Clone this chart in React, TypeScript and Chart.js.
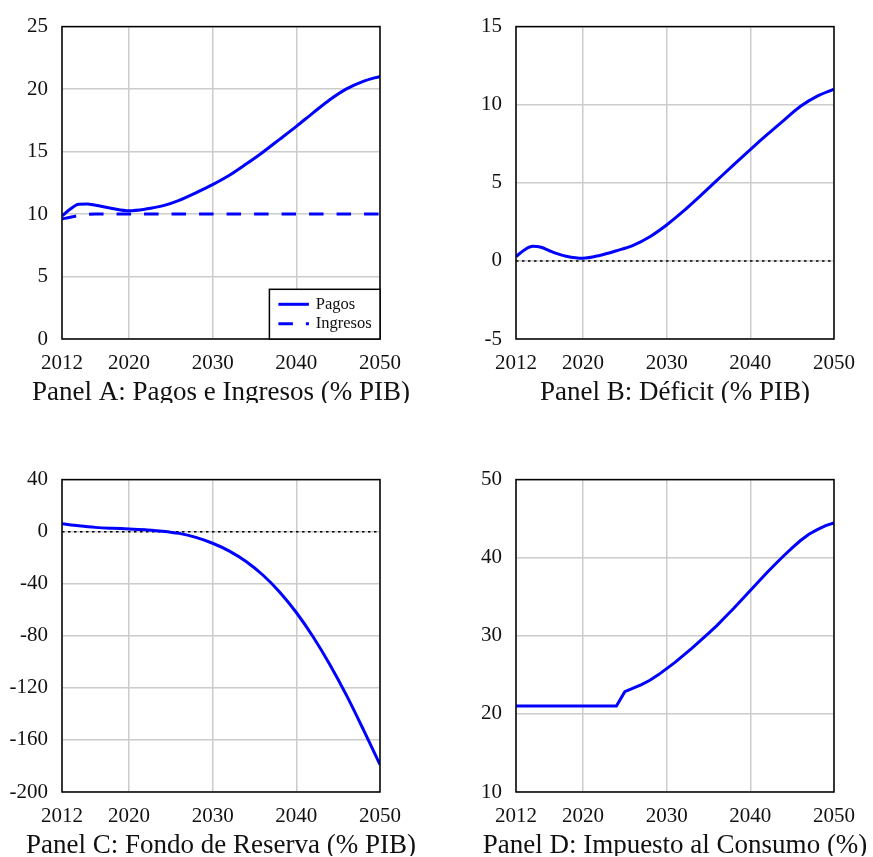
import React, { useEffect, useRef } from "react";
import { Chart, registerables } from "chart.js";

Chart.register(...registerables);

const FONT = "'Liberation Serif', 'Times New Roman', Times, serif";
const BLUE = "#0000ff";
const GRID = "#cccccc";
const TEXT = "#111111";

const xTickYears = [2012, 2020, 2030, 2040, 2050];

// Panel A: Pagos e Ingresos (% PIB)
const yearsPagos = [2012, 2013, 2014, 2015, 2016, 2018, 2020, 2022, 2024, 2026, 2028, 2030, 2032, 2034, 2036, 2038, 2040, 2042, 2044, 2046, 2048, 2050];
const pagos = [9.85, 10.4, 10.78, 10.8, 10.7, 10.45, 10.27, 10.4, 10.65, 11.1, 11.7, 12.35, 13.1, 14.0, 14.95, 15.98, 17.02, 18.1, 19.15, 20.02, 20.62, 21.02];
const yearsIngresos = [2012, 2013, 2014, 2015, 2016, 2020, 2030, 2040, 2050];
const ingresos = [9.6, 9.75, 9.88, 9.96, 10.0, 10.0, 10.0, 10.0, 10.0];
const ticksA = [0, 5, 10, 15, 20, 25];

// Panel B: Déficit (% PIB)
const yearsDeficit = [2012, 2013, 2014, 2015, 2016, 2017, 2018, 2020, 2022, 2024, 2026, 2028, 2030, 2032, 2034, 2036, 2038, 2040, 2042, 2044, 2046, 2048, 2050];
const deficit = [0.28, 0.7, 0.93, 0.87, 0.65, 0.45, 0.3, 0.17, 0.35, 0.65, 1.0, 1.55, 2.3, 3.18, 4.15, 5.15, 6.15, 7.13, 8.08, 9.0, 9.9, 10.55, 11.0];
const ticksB = [-5, 0, 5, 10, 15];

// Panel C: Fondo de Reserva (% PIB)
const yearsFondo = [2012, 2014, 2016, 2018, 2020, 2022, 2024, 2026, 2028, 2030, 2032, 2034, 2036, 2038, 2040, 2042, 2044, 2046, 2048, 2050];
const fondo = [6, 4.5, 3.3, 2.6, 2.1, 1.4, 0.4, -1.3, -4.4, -8.9, -14.9, -22.9, -33.3, -46.3, -62.1, -80.7, -102, -125.8, -151.9, -179];
const ticksC = [-200, -160, -120, -80, -40, 0, 40];

// Panel D: Impuesto al Consumo (%)
const yearsImpuesto = [2012, 2013, 2014, 2015, 2016, 2017, 2018, 2019, 2020, 2021, 2022, 2023, 2024, 2025, 2026, 2027, 2028, 2029, 2030, 2031, 2032, 2033, 2034, 2035, 2036, 2037, 2038, 2039, 2040, 2041, 2042, 2043, 2044, 2045, 2046, 2047, 2048, 2049, 2050];
const impuesto = [21, 21, 21, 21, 21, 21, 21, 21, 21, 21, 21, 21, 21, 22.85, 23.3, 23.75, 24.3, 25.0, 25.8, 26.6, 27.5, 28.4, 29.35, 30.3, 31.3, 32.4, 33.5, 34.65, 35.8, 36.95, 38.1, 39.2, 40.25, 41.25, 42.2, 43.0, 43.6, 44.1, 44.45];
const ticksD = [10, 20, 30, 40, 50];

const zeroLineYears = [2012, 2050];
const zeroLine = [0, 0];

const toPoints = (xs: number[], ys: number[]) => xs.map((x, i) => ({ x, y: ys[i] }));

const mainLine = (label: string, xs: number[], ys: number[], extra: any = {}) => ({
  label,
  data: toPoints(xs, ys),
  borderColor: BLUE,
  backgroundColor: BLUE,
  borderWidth: 3,
  pointRadius: 0,
  fill: false,
  cubicInterpolationMode: "monotone",
  ...extra,
});

const dottedZero = () => ({
  label: "",
  data: toPoints(zeroLineYears, zeroLine),
  borderColor: "#000000",
  borderWidth: 1.5,
  borderDash: [2.5, 3.5],
  pointRadius: 0,
  fill: false,
});

const framePlugin = {
  id: "frame",
  afterDatasetsDraw(chart: any) {
    const { ctx, chartArea } = chart;
    ctx.save();
    ctx.strokeStyle = "#000";
    ctx.lineWidth = 1.5;
    ctx.setLineDash([]);
    ctx.strokeRect(chartArea.left, chartArea.top, chartArea.right - chartArea.left, chartArea.bottom - chartArea.top);
    ctx.restore();
  },
};

const makeTitlePlugin = (text: string) => ({
  id: "panelTitle",
  afterDraw(chart: any) {
    const { ctx, chartArea } = chart;
    ctx.save();
    ctx.font = `27px ${FONT}`;
    ctx.fillStyle = TEXT;
    ctx.textAlign = "center";
    ctx.textBaseline = "alphabetic";
    ctx.fillText(text, (chartArea.left + chartArea.right) / 2, chartArea.bottom + 61);
    ctx.restore();
  },
});

const legendPlugin = {
  id: "boxLegend",
  afterDraw(chart: any) {
    const { ctx, chartArea } = chart;
    const w = 110.6;
    const h = 49.7;
    const x0 = chartArea.right - w;
    const y0 = chartArea.bottom - h;
    ctx.save();
    ctx.fillStyle = "#fff";
    ctx.fillRect(x0, y0, w, h);
    ctx.strokeStyle = "#000";
    ctx.lineWidth = 1.5;
    ctx.setLineDash([]);
    ctx.strokeRect(x0, y0, w, h);
    const items = chart.data.datasets.filter((d: any) => d.label);
    items.forEach((ds: any, i: number) => {
      const y = y0 + 15 + i * 19.5;
      ctx.beginPath();
      ctx.setLineDash(ds.borderDash || []);
      ctx.strokeStyle = ds.borderColor;
      ctx.lineWidth = ds.borderWidth;
      ctx.moveTo(x0 + 9, y);
      ctx.lineTo(x0 + 39.5, y);
      ctx.stroke();
      ctx.setLineDash([]);
      ctx.fillStyle = TEXT;
      ctx.font = `16.5px ${FONT}`;
      ctx.textAlign = "left";
      ctx.textBaseline = "middle";
      ctx.fillText(ds.label, x0 + 46.3, y);
    });
    ctx.restore();
  },
};

type PanelProps = {
  left: number;
  top: number;
  title: string;
  yTicks: number[];
  datasets: any[];
  legend?: boolean;
};

const CW = 419;
const CH = 403;

function Panel({ left, top, title, yTicks, datasets, legend }: PanelProps) {
  const ref = useRef<HTMLCanvasElement | null>(null);
  useEffect(() => {
    if (!ref.current) return;
    const tickFont = { family: FONT, size: 21 };
    const plugins: any[] = [framePlugin, makeTitlePlugin(title)];
    if (legend) plugins.push(legendPlugin);
    const chart = new Chart(ref.current, {
      type: "line",
      data: { datasets },
      options: {
        animation: false,
        responsive: false,
        maintainAspectRatio: false,
        devicePixelRatio: 1,
        layout: { padding: { top: 21, right: CW - 62 - 318, left: 0, bottom: 0 } },
        plugins: {
          legend: { display: false },
          tooltip: { enabled: false },
          title: { display: false },
        },
        elements: { point: { radius: 0 } },
        scales: {
          x: {
            type: "linear",
            min: 2012,
            max: 2050,
            afterBuildTicks: (s: any) => {
              s.ticks = xTickYears.map((v) => ({ value: v }));
            },
            afterFit: (s: any) => {
              s.height = CH - 339;
            },
            grid: { color: GRID, lineWidth: 1.5, drawTicks: false },
            border: { display: false },
            ticks: {
              padding: 12,
              font: tickFont,
              color: TEXT,
              maxRotation: 0,
              autoSkip: false,
              callback: (v: any) => String(v),
            },
          },
          y: {
            type: "linear",
            min: yTicks[0],
            max: yTicks[yTicks.length - 1],
            afterBuildTicks: (s: any) => {
              s.ticks = yTicks.map((v) => ({ value: v }));
            },
            afterFit: (s: any) => {
              s.width = 62;
            },
            grid: { color: GRID, lineWidth: 1.5, drawTicks: false },
            border: { display: false },
            ticks: {
              padding: 14,
              font: tickFont,
              color: TEXT,
              autoSkip: false,
              callback: (v: any) => String(v),
            },
          },
        },
      } as any,
      plugins,
    });
    return () => chart.destroy();
  }, []);
  return (
    <canvas
      ref={ref}
      width={CW}
      height={CH}
      style={{ position: "absolute", left, top, width: CW, height: CH }}
    />
  );
}

export default function App() {
  return (
    <div
      style={{
        position: "absolute",
        left: 0,
        top: 0,
        width: 873,
        height: 857,
        overflow: "hidden",
        background: "#fff",
      }}
    >
      <Panel
        left={0}
        top={0}
        title="Panel A: Pagos e Ingresos (% PIB)"
        yTicks={ticksA}
        legend
        datasets={[
          mainLine("Pagos", yearsPagos, pagos),
          mainLine("Ingresos", yearsIngresos, ingresos, { borderDash: [14.5, 13] }),
        ]}
      />
      <Panel
        left={454}
        top={0}
        title="Panel B: Déficit (% PIB)"
        yTicks={ticksB}
        datasets={[mainLine("Déficit", yearsDeficit, deficit), dottedZero()]}
      />
      <Panel
        left={0}
        top={453}
        title="Panel C: Fondo de Reserva (% PIB)"
        yTicks={ticksC}
        datasets={[mainLine("Fondo", yearsFondo, fondo), dottedZero()]}
      />
      <Panel
        left={454}
        top={453}
        title="Panel D: Impuesto al Consumo (%)"
        yTicks={ticksD}
        datasets={[mainLine("Impuesto", yearsImpuesto, impuesto, { cubicInterpolationMode: "default", tension: 0 })]}
      />
    </div>
  );
}
